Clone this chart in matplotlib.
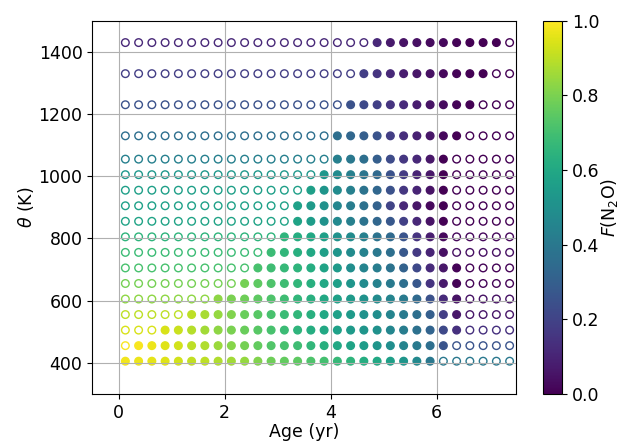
import numpy as np
import matplotlib.pyplot as plt
from matplotlib import cm
from matplotlib.ticker import MultipleLocator

# sample ages (yr), one column per age
ages = [0.125, 0.375, 0.625, 0.875, 1.125, 1.375, 1.625, 1.875, 2.125, 2.375,
        2.625, 2.875, 3.125, 3.375, 3.625, 3.875, 4.125, 4.375, 4.625, 4.875,
        5.125, 5.375, 5.625, 5.875, 6.125, 6.375, 6.625, 6.875, 7.125, 7.375]

# potential temperature levels (K), one row per level
theta = [405, 455, 505, 555, 605, 655, 705, 755, 805, 855, 905, 955, 1005,
         1055, 1130, 1230, 1330, 1430]

# first / last age column drawn as filled marker, per theta level
filled_from = [0, 1, 3, 5, 7, 9, 10, 11, 12, 13, 13, 14, 15, 16, 16, 17, 18, 19]
filled_to = [23, 24, 25, 25, 25, 25, 25, 24, 24, 24, 24, 24, 24, 24, 25, 26, 27, 28]

# F(N2O) per theta level (rows) and age (columns)
f_n2o = [
    [0.98, 0.97, 0.96, 0.95, 0.93, 0.91, 0.90, 0.88, 0.86, 0.84,
     0.81, 0.78, 0.76, 0.75, 0.72, 0.70, 0.67, 0.65, 0.62, 0.60,
     0.56, 0.52, 0.47, 0.40, 0.40, 0.40, 0.40, 0.40, 0.40, 0.40],
    [0.99, 0.99, 0.97, 0.95, 0.93, 0.90, 0.88, 0.85, 0.82, 0.79,
     0.76, 0.73, 0.71, 0.69, 0.66, 0.63, 0.60, 0.58, 0.55, 0.52,
     0.49, 0.45, 0.41, 0.36, 0.26, 0.26, 0.26, 0.26, 0.26, 0.26],
    [0.94, 0.94, 0.94, 0.94, 0.92, 0.89, 0.86, 0.83, 0.80, 0.77,
     0.74, 0.71, 0.68, 0.65, 0.62, 0.60, 0.57, 0.54, 0.52, 0.50,
     0.46, 0.42, 0.37, 0.32, 0.22, 0.14, 0.14, 0.14, 0.14, 0.14],
    [0.90, 0.90, 0.90, 0.90, 0.90, 0.90, 0.87, 0.84, 0.81, 0.77,
     0.74, 0.71, 0.68, 0.66, 0.63, 0.60, 0.57, 0.54, 0.51, 0.49,
     0.45, 0.41, 0.36, 0.30, 0.18, 0.06, 0.06, 0.06, 0.06, 0.06],
    [0.83, 0.83, 0.83, 0.83, 0.83, 0.83, 0.83, 0.83, 0.80, 0.78,
     0.75, 0.72, 0.69, 0.66, 0.63, 0.60, 0.57, 0.54, 0.51, 0.48,
     0.45, 0.41, 0.34, 0.25, 0.12, 0.05, 0.05, 0.05, 0.05, 0.05],
    [0.79, 0.79, 0.79, 0.79, 0.79, 0.79, 0.79, 0.79, 0.79, 0.79,
     0.75, 0.72, 0.69, 0.66, 0.63, 0.60, 0.56, 0.52, 0.48, 0.44,
     0.41, 0.36, 0.27, 0.15, 0.07, 0.01, 0.01, 0.01, 0.01, 0.01],
    [0.71, 0.71, 0.71, 0.71, 0.71, 0.71, 0.71, 0.71, 0.71, 0.71,
     0.71, 0.69, 0.67, 0.65, 0.62, 0.58, 0.54, 0.49, 0.45, 0.42,
     0.38, 0.31, 0.22, 0.12, 0.06, 0.01, 0.01, 0.01, 0.01, 0.01],
    [0.68, 0.68, 0.68, 0.68, 0.68, 0.68, 0.68, 0.68, 0.68, 0.68,
     0.68, 0.68, 0.66, 0.63, 0.60, 0.56, 0.52, 0.48, 0.44, 0.40,
     0.36, 0.27, 0.17, 0.10, 0.04, 0.04, 0.04, 0.04, 0.04, 0.04],
    [0.65, 0.65, 0.65, 0.65, 0.65, 0.65, 0.65, 0.65, 0.65, 0.65,
     0.65, 0.65, 0.65, 0.62, 0.60, 0.56, 0.51, 0.48, 0.43, 0.38,
     0.34, 0.26, 0.15, 0.08, 0.02, 0.02, 0.02, 0.02, 0.02, 0.02],
    [0.58, 0.58, 0.58, 0.58, 0.58, 0.58, 0.58, 0.58, 0.58, 0.58,
     0.58, 0.58, 0.58, 0.58, 0.55, 0.51, 0.47, 0.43, 0.38, 0.33,
     0.27, 0.19, 0.11, 0.05, 0.00, 0.00, 0.00, 0.00, 0.00, 0.00],
    [0.57, 0.57, 0.57, 0.57, 0.57, 0.57, 0.57, 0.57, 0.57, 0.57,
     0.57, 0.57, 0.57, 0.57, 0.54, 0.50, 0.46, 0.42, 0.37, 0.31,
     0.20, 0.11, 0.06, 0.02, 0.00, 0.00, 0.00, 0.00, 0.00, 0.00],
    [0.56, 0.56, 0.56, 0.56, 0.56, 0.56, 0.56, 0.56, 0.56, 0.56,
     0.56, 0.56, 0.56, 0.56, 0.56, 0.52, 0.48, 0.43, 0.38, 0.33,
     0.25, 0.16, 0.10, 0.05, 0.00, 0.00, 0.00, 0.00, 0.00, 0.00],
    [0.53, 0.53, 0.53, 0.53, 0.53, 0.53, 0.53, 0.53, 0.53, 0.53,
     0.53, 0.53, 0.53, 0.53, 0.53, 0.53, 0.48, 0.43, 0.39, 0.34,
     0.25, 0.17, 0.10, 0.06, 0.00, 0.00, 0.00, 0.00, 0.00, 0.00],
    [0.43, 0.43, 0.43, 0.43, 0.43, 0.43, 0.43, 0.43, 0.43, 0.43,
     0.43, 0.43, 0.43, 0.43, 0.43, 0.43, 0.43, 0.40, 0.36, 0.30,
     0.23, 0.16, 0.11, 0.06, 0.00, 0.00, 0.00, 0.00, 0.00, 0.00],
    [0.36, 0.36, 0.36, 0.36, 0.36, 0.36, 0.36, 0.36, 0.36, 0.36,
     0.36, 0.36, 0.36, 0.36, 0.36, 0.36, 0.36, 0.33, 0.30, 0.26,
     0.18, 0.13, 0.09, 0.06, 0.02, 0.00, 0.00, 0.00, 0.00, 0.00],
    [0.25, 0.25, 0.25, 0.25, 0.25, 0.25, 0.25, 0.25, 0.25, 0.25,
     0.25, 0.25, 0.25, 0.25, 0.25, 0.25, 0.25, 0.25, 0.22, 0.19,
     0.15, 0.12, 0.08, 0.05, 0.03, 0.01, 0.00, 0.00, 0.00, 0.00],
    [0.18, 0.18, 0.18, 0.18, 0.18, 0.18, 0.18, 0.18, 0.18, 0.18,
     0.18, 0.18, 0.18, 0.18, 0.18, 0.18, 0.18, 0.18, 0.18, 0.15,
     0.11, 0.08, 0.06, 0.04, 0.02, 0.01, 0.00, 0.00, 0.00, 0.00],
    [0.11, 0.11, 0.11, 0.11, 0.11, 0.11, 0.11, 0.11, 0.11, 0.11,
     0.11, 0.11, 0.11, 0.11, 0.11, 0.11, 0.11, 0.11, 0.11, 0.11,
     0.07, 0.05, 0.04, 0.03, 0.02, 0.01, 0.00, 0.00, 0.00, 0.00],
]

plt.rcParams['font.size'] = 12.5
plt.rcParams['axes.labelsize'] = 12.5

fig = plt.figure(figsize=(6.19, 4.43), dpi=100)
ax = fig.add_axes([0.149, 0.111, 0.685, 0.842])
cax = fig.add_axes([0.877, 0.111, 0.031, 0.842])

cmap = plt.get_cmap('viridis')
norm = plt.Normalize(0, 1)
x = np.array(ages)
idx = np.arange(len(ages))

for i, th in enumerate(theta):
    vals = np.array(f_n2o[i])
    y = np.full(len(ages), th)
    filled = (idx >= filled_from[i]) & (idx <= filled_to[i])
    ax.scatter(x[filled], y[filled], c=vals[filled], cmap=cmap, norm=norm,
               s=30, linewidths=1.0)
    ax.scatter(x[~filled], y[~filled], facecolors='none',
               edgecolors=cmap(norm(vals[~filled])), s=30, linewidths=1.0)

ax.set_xlim(-0.5, 7.5)
ax.set_ylim(300, 1500)
ax.xaxis.set_major_locator(MultipleLocator(2))
ax.set_xlabel('Age (yr)', labelpad=1)
ax.set_ylabel(r'$\theta$ (K)', labelpad=2)
ax.grid(True)

cb = fig.colorbar(cm.ScalarMappable(norm=norm, cmap=cmap), cax=cax)
cb.set_label(r'$F(\mathrm{N_2O})$', labelpad=0)

fig.savefig('out.png', dpi=100)
